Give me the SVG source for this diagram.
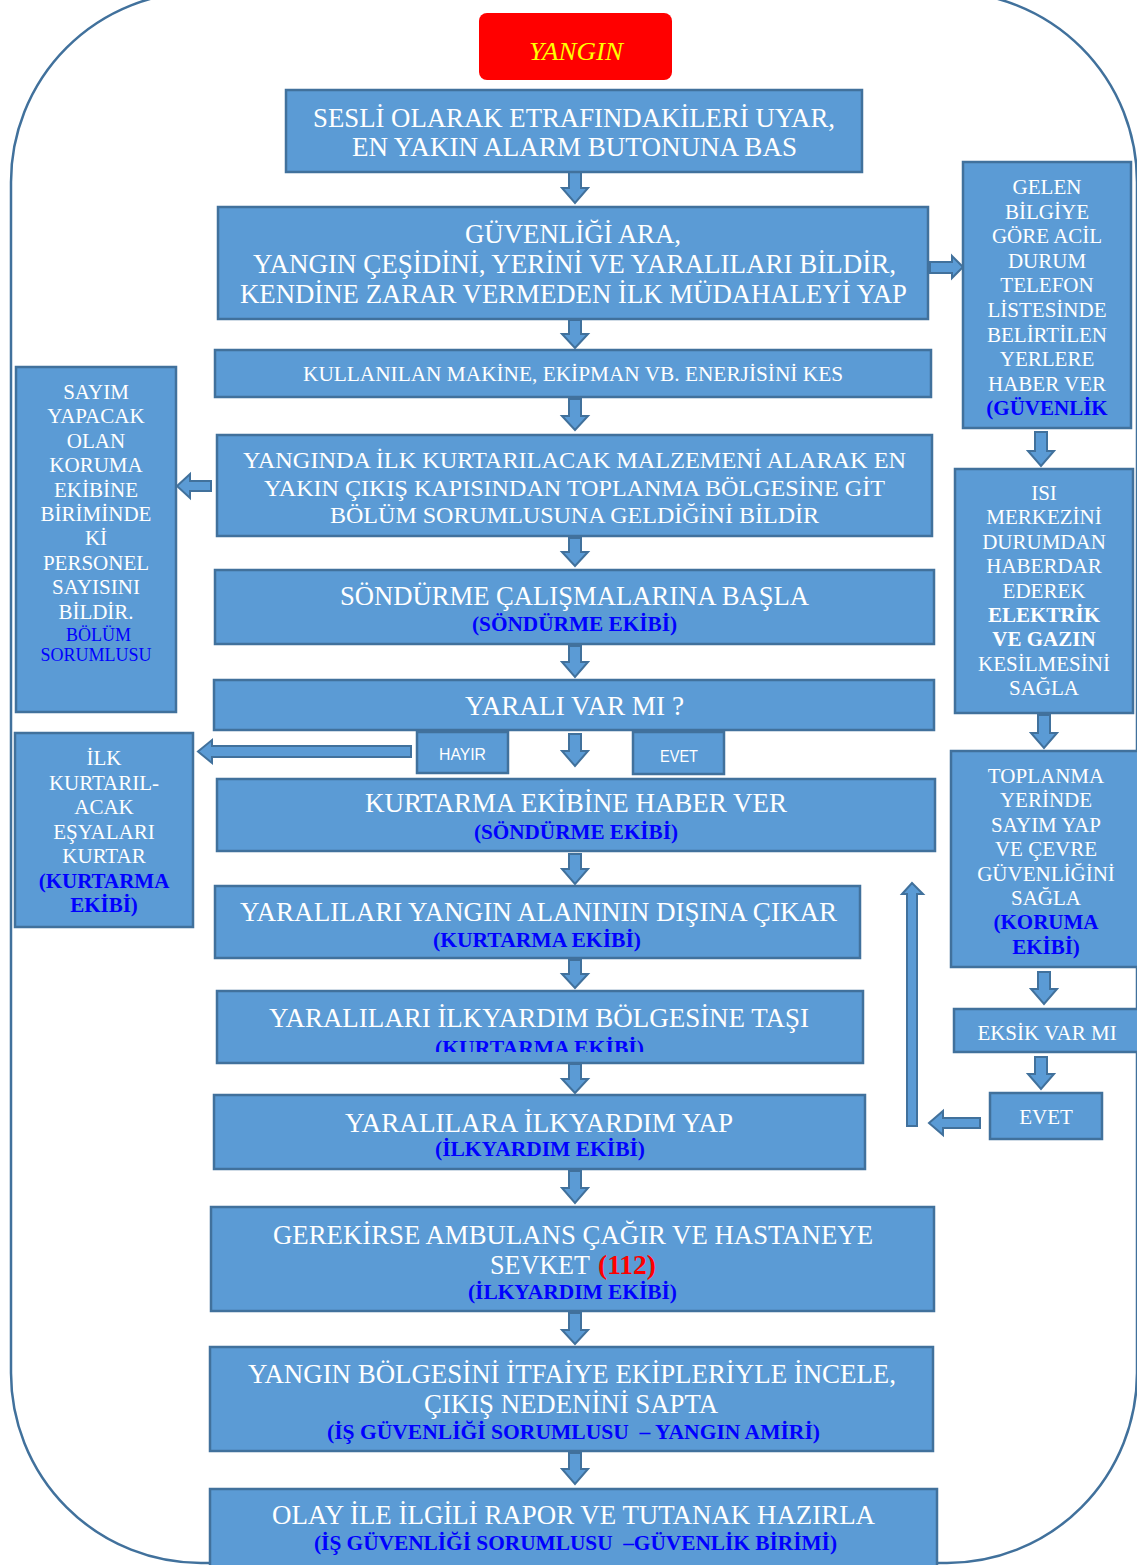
<svg xmlns="http://www.w3.org/2000/svg" width="1137" height="1565" viewBox="0 0 1137 1565">
<style>
.box{fill:#5B9BD5;stroke:#41719C;stroke-width:2.5}
.arr{fill:#5B9BD5;stroke:#41719C;stroke-width:2;stroke-linejoin:miter}
.t{font-family:"Liberation Serif","Times New Roman",serif;fill:#FFFFFF;text-anchor:middle}
.m{font-size:27px}
.s{font-size:21px}
.b{font-weight:bold}
.blue{fill:#0000FF}
.sub{font-family:"Liberation Serif","Times New Roman",serif;font-weight:bold;font-size:20px;fill:#0000FF;text-anchor:middle}
.sans{font-family:"Liberation Sans",Arial,sans-serif;font-size:16px;fill:#FFFFFF;text-anchor:middle}
</style>
<defs>
<clipPath id="c9"><rect x="217" y="991" width="646" height="61"/></clipPath>
</defs>
<rect width="1137" height="1565" fill="#FFFFFF"/>
<rect id="frame" x="11" y="-8" width="1126" height="1571" rx="190" ry="190" fill="none" stroke="#41719C" stroke-width="2.5"/>

<g id="connectors">
<path class="arr" d="M569 172H581V188H588L575 203L562 188H569Z"/>
<path class="arr" d="M569 320H581V334H588L575 348L562 334H569Z"/>
<path class="arr" d="M569 399H581V416H588L575 430L562 416H569Z"/>
<path class="arr" d="M569 538H581V552H588L575 566L562 552H569Z"/>
<path class="arr" d="M569 646H581V662H588L575 677L562 662H569Z"/>
<path class="arr" d="M569 734H581V751H588L575 766L562 751H569Z"/>
<path class="arr" d="M569 854H581V869H588L575 884L562 869H569Z"/>
<path class="arr" d="M569 960H581V974H588L575 988L562 974H569Z"/>
<path class="arr" d="M569 1064H581V1079H588L575 1093L562 1079H569Z"/>
<path class="arr" d="M569 1171H581V1188H588L575 1203L562 1188H569Z"/>
<path class="arr" d="M569 1313H581V1330H588L575 1344L562 1330H569Z"/>
<path class="arr" d="M569 1453H581V1469H588L575 1484L562 1469H569Z"/>
<path class="arr" d="M1035 432H1047V451H1054L1041 466L1028 451H1035Z"/>
<path class="arr" d="M1038 715H1050V733H1057L1044 748L1031 733H1038Z"/>
<path class="arr" d="M1038 972H1050V989H1057L1044 1004L1031 989H1038Z"/>
<path class="arr" d="M1035 1057H1047V1074H1054L1041 1089L1028 1074H1035Z"/>
<path class="arr" d="M930 262H952V256L963 267L952 278V273H930Z"/>
<path class="arr" d="M211 481H190V474L177 486L190 498V491H211Z"/>
<path class="arr" d="M411 746H212V740L198 751.5L212 763V757H411Z"/>
<path class="arr" d="M980 1118H943V1111L929 1123L943 1135V1128H980Z"/>
<path class="arr" d="M907 1126V894H902L912 883L923 894H917V1126Z"/>
</g>

<g id="yangin">
<rect x="479" y="13" width="193" height="67" rx="8" fill="#FF0000"/>
<text x="576" y="60" font-family="Liberation Serif, serif" font-style="italic" font-size="26" fill="#FFFF00" text-anchor="middle" textLength="94" lengthAdjust="spacingAndGlyphs">YANGIN</text>
</g>

<g id="n1">
<rect class="box" x="286" y="90" width="576" height="82"/>
<text class="t m" x="574" y="127" textLength="522" lengthAdjust="spacingAndGlyphs">SESLİ OLARAK ETRAFINDAKİLERİ UYAR,</text>
<text class="t m" x="574.5" y="156" textLength="445" lengthAdjust="spacingAndGlyphs">EN YAKIN ALARM BUTONUNA BAS</text>
</g>

<g id="n2">
<rect class="box" x="218" y="207" width="710" height="112"/>
<text class="t m" x="573" y="243" textLength="216" lengthAdjust="spacingAndGlyphs">GÜVENLİĞİ ARA,</text>
<text class="t m" x="574.5" y="273" textLength="643" lengthAdjust="spacingAndGlyphs">YANGIN ÇEŞİDİNİ, YERİNİ VE YARALILARI BİLDİR,</text>
<text class="t m" x="573.5" y="303" textLength="667" lengthAdjust="spacingAndGlyphs">KENDİNE ZARAR VERMEDEN İLK MÜDAHALEYİ YAP</text>
</g>

<g id="n3">
<rect class="box" x="215" y="350" width="716" height="47"/>
<text class="t" x="573" y="381" font-size="21.5" textLength="540" lengthAdjust="spacingAndGlyphs">KULLANILAN MAKİNE, EKİPMAN VB. ENERJİSİNİ KES</text>
</g>

<g id="n4">
<rect class="box" x="217" y="435" width="715" height="101"/>
<text class="t" font-size="24" x="574.5" y="468" textLength="663" lengthAdjust="spacingAndGlyphs">YANGINDA İLK KURTARILACAK MALZEMENİ ALARAK EN</text>
<text class="t" font-size="24" x="574.5" y="496" textLength="621" lengthAdjust="spacingAndGlyphs">YAKIN ÇIKIŞ KAPISINDAN TOPLANMA BÖLGESİNE GİT</text>
<text class="t" font-size="24" x="574.5" y="523" textLength="489" lengthAdjust="spacingAndGlyphs">BÖLÜM SORUMLUSUNA GELDİĞİNİ BİLDİR</text>
</g>

<g id="n5">
<rect class="box" x="215" y="570" width="719" height="74"/>
<text class="t m" x="574.5" y="605" textLength="469" lengthAdjust="spacingAndGlyphs">SÖNDÜRME ÇALIŞMALARINA BAŞLA</text>
<text class="sub" x="574.5" y="631" textLength="205" lengthAdjust="spacingAndGlyphs">(SÖNDÜRME EKİBİ)</text>
</g>

<g id="n6">
<rect class="box" x="214" y="680" width="720" height="50"/>
<text class="t m" x="574.5" y="715" textLength="219" lengthAdjust="spacingAndGlyphs">YARALI VAR MI ?</text>
</g>

<g id="hayir">
<rect class="box" x="417" y="732" width="91" height="41"/>
<text class="sans" x="462.5" y="760" textLength="47" lengthAdjust="spacingAndGlyphs">HAYIR</text>
</g>

<g id="evet1">
<rect class="box" x="633" y="732" width="91" height="42"/>
<text class="sans" x="679" y="762" textLength="38" lengthAdjust="spacingAndGlyphs">EVET</text>
</g>

<g id="n7">
<rect class="box" x="217" y="779" width="718" height="72"/>
<text class="t m" x="576" y="812" textLength="422" lengthAdjust="spacingAndGlyphs">KURTARMA EKİBİNE HABER VER</text>
<text class="sub" x="576" y="839" textLength="204" lengthAdjust="spacingAndGlyphs">(SÖNDÜRME EKİBİ)</text>
</g>

<g id="n8">
<rect class="box" x="215" y="886" width="645" height="72"/>
<text class="t m" x="538.5" y="921" textLength="597" lengthAdjust="spacingAndGlyphs">YARALILARI YANGIN ALANININ DIŞINA ÇIKAR</text>
<text class="sub" x="537" y="947" textLength="208" lengthAdjust="spacingAndGlyphs">(KURTARMA EKİBİ)</text>
</g>

<g id="n9">
<rect class="box" x="217" y="991" width="646" height="72"/>
<text class="t m" x="539" y="1027" textLength="540" lengthAdjust="spacingAndGlyphs">YARALILARI İLKYARDIM BÖLGESİNE TAŞI</text>
<text class="sub" x="539.5" y="1055" textLength="209" lengthAdjust="spacingAndGlyphs" clip-path="url(#c9)">(KURTARMA EKİBİ)</text>
</g>

<g id="n10">
<rect class="box" x="214" y="1095" width="651" height="74"/>
<text class="t m" x="539" y="1132" textLength="388" lengthAdjust="spacingAndGlyphs">YARALILARA İLKYARDIM YAP</text>
<text class="sub" x="540" y="1156" textLength="210" lengthAdjust="spacingAndGlyphs">(İLKYARDIM EKİBİ)</text>
</g>

<g id="n11">
<rect class="box" x="211" y="1207" width="723" height="104"/>
<text class="t m" x="573" y="1244" textLength="600" lengthAdjust="spacingAndGlyphs">GEREKİRSE AMBULANS ÇAĞIR VE HASTANEYE</text>
<text class="t m" x="490" y="1274" style="text-anchor:start" textLength="100" lengthAdjust="spacingAndGlyphs">SEVKET</text>
<text class="t m b" x="598" y="1274" style="text-anchor:start;fill:#FF0000" textLength="58" lengthAdjust="spacingAndGlyphs">(112)</text>
<text class="sub" x="572.5" y="1299" textLength="209" lengthAdjust="spacingAndGlyphs">(İLKYARDIM EKİBİ)</text>
</g>

<g id="n12">
<rect class="box" x="210" y="1347" width="723" height="104"/>
<text class="t m" x="572" y="1383" textLength="648" lengthAdjust="spacingAndGlyphs">YANGIN BÖLGESİNİ İTFAİYE EKİPLERİYLE İNCELE,</text>
<text class="t m" x="571" y="1413" textLength="294" lengthAdjust="spacingAndGlyphs">ÇIKIŞ NEDENİNİ SAPTA</text>
<text class="sub" x="573.5" y="1439" textLength="493" lengthAdjust="spacingAndGlyphs" xml:space="preserve">(İŞ GÜVENLİĞİ SORUMLUSU  – YANGIN AMİRİ)</text>
</g>

<g id="n13">
<rect class="box" x="210" y="1489" width="727" height="90"/>
<text class="t m" x="573.5" y="1524" textLength="603" lengthAdjust="spacingAndGlyphs">OLAY İLE İLGİLİ RAPOR VE TUTANAK HAZIRLA</text>
<text class="sub" x="575.5" y="1550" textLength="523" lengthAdjust="spacingAndGlyphs" xml:space="preserve">(İŞ GÜVENLİĞİ SORUMLUSU  –GÜVENLİK BİRİMİ)</text>
</g>

<g id="r1">
<rect class="box" x="963" y="162" width="168" height="266"/>
<text class="t s" x="1047" y="194">GELEN</text>
<text class="t s" x="1047" y="218.6">BİLGİYE</text>
<text class="t s" x="1047" y="243.2">GÖRE ACİL</text>
<text class="t s" x="1047" y="267.8">DURUM</text>
<text class="t s" x="1047" y="292.4">TELEFON</text>
<text class="t s" x="1047" y="317">LİSTESİNDE</text>
<text class="t s" x="1047" y="341.6">BELİRTİLEN</text>
<text class="t s" x="1047" y="366.2">YERLERE</text>
<text class="t s" x="1047" y="390.8">HABER VER</text>
<text class="t s b blue" x="1047" y="415.4">(GÜVENLİK</text>
</g>

<g id="r2">
<rect class="box" x="955" y="469" width="178" height="244"/>
<text class="t s" x="1044" y="500">ISI</text>
<text class="t s" x="1044" y="524.4">MERKEZİNİ</text>
<text class="t s" x="1044" y="548.8">DURUMDAN</text>
<text class="t s" x="1044" y="573.2">HABERDAR</text>
<text class="t s" x="1044" y="597.6">EDEREK</text>
<text class="t s b" x="1044" y="622">ELEKTRİK</text>
<text class="t s b" x="1044" y="646.4">VE GAZIN</text>
<text class="t s" x="1044" y="670.8">KESİLMESİNİ</text>
<text class="t s" x="1044" y="695.2">SAĞLA</text>
</g>

<g id="r3">
<rect class="box" x="951" y="751" width="190" height="216"/>
<text class="t s" x="1046" y="783">TOPLANMA</text>
<text class="t s" x="1046" y="807.4">YERİNDE</text>
<text class="t s" x="1046" y="831.8">SAYIM YAP</text>
<text class="t s" x="1046" y="856.2">VE ÇEVRE</text>
<text class="t s" x="1046" y="880.6">GÜVENLİĞİNİ</text>
<text class="t s" x="1046" y="905">SAĞLA</text>
<text class="t s b blue" x="1046" y="929.4">(KORUMA</text>
<text class="t s b blue" x="1046" y="953.8">EKİBİ)</text>
</g>

<g id="r4">
<rect class="box" x="954" y="1009" width="187" height="43"/>
<text class="t s" x="1047" y="1040">EKSİK VAR MI</text>
</g>

<g id="r5">
<rect class="box" x="990" y="1093" width="112" height="46"/>
<text class="t s" x="1046" y="1124">EVET</text>
</g>

<g id="l1">
<rect class="box" x="16" y="367" width="160" height="345"/>
<text class="t s" x="96" y="399">SAYIM</text>
<text class="t s" x="96" y="423.4">YAPACAK</text>
<text class="t s" x="96" y="447.8">OLAN</text>
<text class="t s" x="96" y="472.2">KORUMA</text>
<text class="t s" x="96" y="496.6">EKİBİNE</text>
<text class="t s" x="96" y="521">BİRİMİNDE</text>
<text class="t s" x="96" y="545.4">Kİ</text>
<text class="t s" x="96" y="569.8">PERSONEL</text>
<text class="t s" x="96" y="594.2">SAYISINI</text>
<text class="t s" x="96" y="618.6">BİLDİR.</text>
<text class="t blue" font-size="18" x="98.5" y="641">BÖLÜM</text>
<text class="t blue" font-size="18" x="96" y="661">SORUMLUSU</text>
</g>

<g id="l2">
<rect class="box" x="15" y="733" width="178" height="194"/>
<text class="t s" x="104" y="765">İLK</text>
<text class="t s" x="104" y="789.5">KURTARIL-</text>
<text class="t s" x="104" y="814">ACAK</text>
<text class="t s" x="104" y="838.5">EŞYALARI</text>
<text class="t s" x="104" y="863">KURTAR</text>
<text class="t s b blue" x="104" y="887.5">(KURTARMA</text>
<text class="t s b blue" x="104" y="912">EKİBİ)</text>
</g>
</svg>
